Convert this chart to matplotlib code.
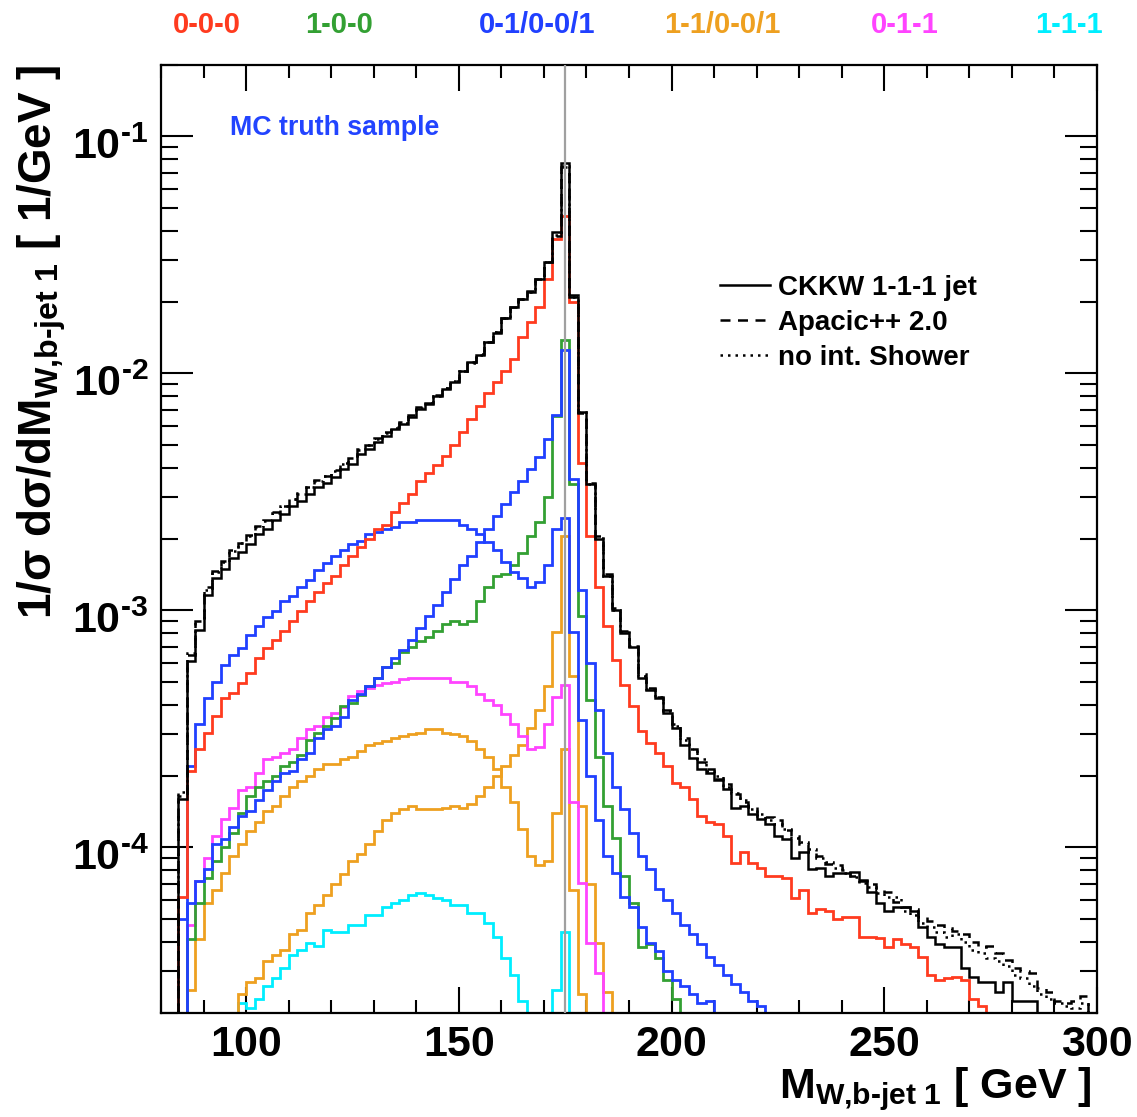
import numpy as np
import matplotlib
matplotlib.use('Agg')
import matplotlib.pyplot as plt
import matplotlib.transforms as mtransforms
from matplotlib import font_manager
from matplotlib.lines import Line2D
from matplotlib.ticker import MultipleLocator, LogLocator, NullFormatter

# bin width is 2 GeV everywhere; each list starts at its *_start edge
BIN = 2.0

ckkw_start = 82
ckkw = [
    1e-6, 1.6e-4, 6.1e-4, 8.3e-4, 1.16e-3, 1.37e-3, 1.5e-3, 1.66e-3, 1.77e-3, 1.9e-3,
    2.1e-3, 2.2e-3, 2.4e-3, 2.55e-3, 2.75e-3, 2.9e-3, 3.1e-3, 3.3e-3, 3.45e-3, 3.65e-3,
    3.95e-3, 4.15e-3, 4.55e-3, 4.8e-3, 5.15e-3, 5.45e-3, 5.8e-3, 6.1e-3, 6.55e-3, 7.1e-3,
    7.4e-3, 8.0e-3, 8.6e-3, 9.2e-3, 1.02e-2, 1.12e-2, 1.2e-2, 1.35e-2, 1.48e-2, 1.72e-2,
    1.9e-2, 2.05e-2, 2.2e-2, 2.5e-2, 2.95e-2, 3.95e-2, 7.7e-2, 2.1e-2, 6.9e-3, 3.4e-3,
    2.0e-3, 1.4e-3, 1.0e-3, 8.0e-4, 7.0e-4, 5.2e-4, 4.6e-4, 4.25e-4, 3.7e-4, 3.2e-4,
    2.7e-4, 2.38e-4, 2.15e-4, 2.05e-4, 1.93e-4, 1.77e-4, 1.47e-4, 1.5e-4, 1.38e-4, 1.32e-4,
    1.25e-4, 1.12e-4, 1.08e-4, 9.0e-5, 9.6e-5, 8.1e-5, 8.2e-5, 7.6e-5, 7.8e-5, 7.8e-5,
    7.9e-5, 7.2e-5, 6.5e-5, 5.8e-5, 5.4e-5, 5.6e-5, 5.6e-5, 5.4e-5, 4.6e-5, 4.2e-5,
    3.9e-5, 3.8e-5, 3.8e-5, 3.1e-5, 2.85e-5, 2.7e-5, 2.7e-5, 2.45e-5, 2.7e-5, 2.25e-5,
    2.25e-5, 2.25e-5, 1e-6,
]

apacic_start = 82
apacic = [
    1e-6, 1.65e-4, 6.5e-4, 9.0e-4, 1.25e-3, 1.47e-3, 1.62e-3, 1.8e-3, 1.93e-3, 2.07e-3,
    2.27e-3, 2.4e-3, 2.6e-3, 2.76e-3, 2.96e-3, 3.13e-3, 3.33e-3, 3.54e-3, 3.7e-3, 3.9e-3,
    4.2e-3, 4.4e-3, 4.8e-3, 5.0e-3, 5.35e-3, 5.65e-3, 5.95e-3, 6.25e-3, 6.7e-3, 7.2e-3,
    7.5e-3, 8.1e-3, 8.7e-3, 9.3e-3, 1.02e-2, 1.12e-2, 1.21e-2, 1.35e-2, 1.5e-2, 1.72e-2,
    1.9e-2, 2.05e-2, 2.22e-2, 2.5e-2, 2.95e-2, 3.8e-2, 7.4e-2, 2.15e-2, 6.8e-3, 3.45e-3,
    2.05e-3, 1.42e-3, 1.02e-3, 8.2e-4, 7.1e-4, 5.4e-4, 4.7e-4, 4.3e-4, 3.8e-4, 3.3e-4,
    2.9e-4, 2.6e-4, 2.3e-4, 2.15e-4, 1.95e-4, 1.85e-4, 1.68e-4, 1.55e-4, 1.48e-4, 1.36e-4,
    1.34e-4, 1.3e-4, 1.18e-4, 1.12e-4, 1.03e-4, 9.6e-5, 9.2e-5, 8.5e-5, 8.4e-5, 8.0e-5,
    7.6e-5, 7.3e-5, 7.0e-5, 6.6e-5, 6.5e-5, 5.9e-5, 5.6e-5, 5.5e-5, 5.1e-5, 4.9e-5,
    4.7e-5, 4.55e-5, 4.45e-5, 4.3e-5, 4.0e-5, 3.8e-5, 3.85e-5, 3.6e-5, 3.35e-5, 3.1e-5,
    3.0e-5, 2.95e-5, 2.55e-5, 2.45e-5, 2.25e-5, 2.2e-5, 2.25e-5, 2.35e-5, 1e-6,
]

noshower_start = 82
noshower = [
    1e-6, 1.72e-4, 6.6e-4, 9.0e-4, 1.22e-3, 1.45e-3, 1.6e-3, 1.78e-3, 1.92e-3, 2.05e-3,
    2.25e-3, 2.38e-3, 2.58e-3, 2.75e-3, 2.95e-3, 3.1e-3, 3.3e-3, 3.5e-3, 3.68e-3, 3.88e-3,
    4.15e-3, 4.4e-3, 4.75e-3, 5.0e-3, 5.3e-3, 5.6e-3, 5.9e-3, 6.2e-3, 6.65e-3, 7.15e-3,
    7.5e-3, 8.05e-3, 8.65e-3, 9.3e-3, 1.02e-2, 1.11e-2, 1.2e-2, 1.35e-2, 1.49e-2, 1.72e-2,
    1.9e-2, 2.05e-2, 2.2e-2, 2.5e-2, 2.95e-2, 3.85e-2, 7.5e-2, 2.1e-2, 6.85e-3, 3.4e-3,
    2.02e-3, 1.4e-3, 1.0e-3, 8.1e-4, 7.05e-4, 5.3e-4, 4.65e-4, 4.3e-4, 3.75e-4, 3.25e-4,
    2.85e-4, 2.6e-4, 2.35e-4, 2.1e-4, 2.0e-4, 1.8e-4, 1.7e-4, 1.58e-4, 1.45e-4, 1.38e-4,
    1.3e-4, 1.25e-4, 1.2e-4, 1.1e-4, 1.05e-4, 9.8e-5, 9.0e-5, 8.7e-5, 8.2e-5, 7.8e-5,
    7.5e-5, 7.1e-5, 6.8e-5, 6.4e-5, 6.2e-5, 6.2e-5, 5.4e-5, 5.2e-5, 4.8e-5, 4.6e-5,
    4.4e-5, 4.2e-5, 4.3e-5, 4.0e-5, 3.7e-5, 3.6e-5, 3.4e-5, 3.3e-5, 3.15e-5, 2.9e-5,
    2.8e-5, 2.6e-5, 2.4e-5, 2.3e-5, 2.2e-5, 2.15e-5, 2.1e-5, 2.2e-5, 1e-6,
]

# 0-0-0
red_start = 82
red = [
    1e-6, 6.2e-5, 2.1e-4, 2.6e-4, 3.05e-4, 3.6e-4, 4.25e-4, 4.5e-4, 4.95e-4, 5.45e-4,
    6.3e-4, 6.95e-4, 7.5e-4, 8.2e-4, 9.0e-4, 9.9e-4, 1.09e-3, 1.2e-3, 1.3e-3, 1.4e-3,
    1.55e-3, 1.7e-3, 1.85e-3, 2.0e-3, 2.2e-3, 2.3e-3, 2.6e-3, 2.85e-3, 3.1e-3, 3.5e-3,
    3.8e-3, 4.1e-3, 4.5e-3, 5.0e-3, 5.65e-3, 6.4e-3, 7.3e-3, 8.3e-3, 9.2e-3, 1.02e-2,
    1.15e-2, 1.43e-2, 1.64e-2, 1.9e-2, 2.5e-2, 3.7e-2, 4.6e-2, 2.0e-2, 4.2e-3, 2.05e-3,
    1.25e-3, 8.6e-4, 6.2e-4, 4.85e-4, 3.95e-4, 3.1e-4, 2.75e-4, 2.5e-4, 2.2e-4, 1.87e-4,
    1.8e-4, 1.6e-4, 1.36e-4, 1.28e-4, 1.25e-4, 1.12e-4, 8.6e-5, 9.6e-5, 8.6e-5, 8.2e-5,
    7.6e-5, 7.6e-5, 7.4e-5, 6.1e-5, 6.6e-5, 5.3e-5, 5.5e-5, 5.4e-5, 5.0e-5, 5.1e-5,
    5.1e-5, 4.2e-5, 4.2e-5, 4.15e-5, 3.8e-5, 4.1e-5, 3.9e-5, 3.8e-5, 3.45e-5, 2.9e-5,
    2.75e-5, 2.8e-5, 2.85e-5, 2.75e-5, 2.3e-5, 2.15e-5, 1e-6,
]

# 1-0-0
green_start = 84
green = [
    1e-6, 4.1e-5, 5.8e-5, 7.4e-5, 8.8e-5, 1.0e-4, 1.15e-4, 1.4e-4, 1.65e-4, 1.8e-4,
    1.9e-4, 2.0e-4, 2.2e-4, 2.3e-4, 2.45e-4, 2.85e-4, 3.05e-4, 3.25e-4, 3.5e-4, 3.95e-4,
    4.05e-4, 4.4e-4, 4.8e-4, 5.2e-4, 5.75e-4, 6.0e-4, 6.7e-4, 7.0e-4, 7.4e-4, 7.7e-4,
    8.2e-4, 8.8e-4, 9.0e-4, 8.8e-4, 9.0e-4, 1.09e-3, 1.25e-3, 1.4e-3, 1.43e-3, 1.55e-3,
    1.75e-3, 2.05e-3, 2.35e-3, 3.0e-3, 6.6e-3, 1.38e-2, 3.4e-3, 9.5e-4, 4.2e-4, 2.4e-4,
    1.5e-4, 1.1e-4, 7.6e-5, 5.8e-5, 3.8e-5, 3.9e-5, 3.4e-5, 2.75e-5, 2.3e-5, 1e-6,
]

# 0-1/0-0/1: broad and narrow components
blue_wide_start = 84
blue_wide = [
    1e-6, 2.2e-4, 3.3e-4, 4.25e-4, 5.0e-4, 5.9e-4, 6.5e-4, 6.95e-4, 7.9e-4, 8.6e-4,
    9.4e-4, 9.9e-4, 1.09e-3, 1.15e-3, 1.26e-3, 1.34e-3, 1.48e-3, 1.58e-3, 1.7e-3, 1.8e-3,
    1.9e-3, 1.96e-3, 2.1e-3, 2.15e-3, 2.2e-3, 2.25e-3, 2.35e-3, 2.35e-3, 2.4e-3, 2.4e-3,
    2.4e-3, 2.4e-3, 2.4e-3, 2.3e-3, 2.2e-3, 2.1e-3, 1.95e-3, 1.8e-3, 1.6e-3, 1.45e-3,
    1.37e-3, 1.26e-3, 1.32e-3, 1.55e-3, 2.2e-3, 2.45e-3, 8.1e-4, 3.45e-4, 2.0e-4, 1.3e-4,
    9.2e-5, 7.8e-5, 6.2e-5, 5.6e-5, 4.6e-5, 3.95e-5, 3.65e-5, 3.0e-5, 2.75e-5, 2.6e-5,
    2.4e-5, 2.2e-5, 2.25e-5, 1e-6,
]

blue_narrow_start = 82
blue_narrow = [
    1e-6, 5.0e-5, 5.8e-5, 7.2e-5, 8.1e-5, 1.03e-4, 1.08e-4, 1.22e-4, 1.36e-4, 1.42e-4,
    1.58e-4, 1.75e-4, 1.9e-4, 2.05e-4, 2.1e-4, 2.35e-4, 2.5e-4, 2.9e-4, 3.15e-4, 3.25e-4,
    3.55e-4, 4.2e-4, 4.45e-4, 4.8e-4, 5.2e-4, 5.75e-4, 6.3e-4, 6.8e-4, 7.5e-4, 8.4e-4,
    9.5e-4, 1.05e-3, 1.2e-3, 1.35e-3, 1.55e-3, 1.7e-3, 1.95e-3, 2.2e-3, 2.5e-3, 2.8e-3,
    3.15e-3, 3.5e-3, 3.95e-3, 4.45e-3, 5.3e-3, 6.7e-3, 1.26e-2, 3.6e-3, 1.22e-3, 6.0e-4,
    3.8e-4, 2.5e-4, 1.8e-4, 1.45e-4, 1.15e-4, 9.2e-5, 8.1e-5, 6.7e-5, 6.0e-5, 5.3e-5,
    4.7e-5, 4.3e-5, 3.9e-5, 3.45e-5, 3.2e-5, 2.9e-5, 2.65e-5, 2.45e-5, 2.25e-5, 2.15e-5,
    1e-6,
]

# 1-1/0-0/1: broad and narrow components
orange_wide_start = 84
orange_wide = [
    1e-6, 2.5e-5, 4.1e-5, 5.8e-5, 6.6e-5, 7.8e-5, 9.2e-5, 1.03e-4, 1.17e-4, 1.28e-4,
    1.42e-4, 1.5e-4, 1.65e-4, 1.8e-4, 1.9e-4, 2.0e-4, 2.15e-4, 2.25e-4, 2.25e-4, 2.35e-4,
    2.4e-4, 2.55e-4, 2.7e-4, 2.75e-4, 2.8e-4, 2.9e-4, 2.95e-4, 3.0e-4, 3.05e-4, 3.15e-4,
    3.15e-4, 3.05e-4, 3.0e-4, 2.95e-4, 2.8e-4, 2.6e-4, 2.4e-4, 2.15e-4, 1.8e-4, 1.55e-4,
    1.2e-4, 9.2e-5, 8.4e-5, 8.8e-5, 1.4e-4, 2.6e-4, 6.6e-5, 2.4e-5, 1e-6,
]

orange_narrow_start = 96
orange_narrow = [
    1e-6, 2.4e-5, 2.7e-5, 2.8e-5, 3.3e-5, 3.5e-5, 3.7e-5, 4.3e-5, 4.5e-5, 5.3e-5,
    5.7e-5, 6.3e-5, 7.0e-5, 7.7e-5, 8.8e-5, 9.4e-5, 1.03e-4, 1.17e-4, 1.3e-4, 1.4e-4,
    1.45e-4, 1.5e-4, 1.45e-4, 1.45e-4, 1.45e-4, 1.46e-4, 1.5e-4, 1.46e-4, 1.52e-4, 1.65e-4,
    1.8e-4, 2.0e-4, 2.2e-4, 2.45e-4, 2.7e-4, 3.2e-4, 3.8e-4, 4.8e-4, 8.1e-4, 2.05e-3,
    5.3e-4, 1.5e-4, 7.0e-5, 3.95e-5, 2.45e-5, 1e-6,
]

# 0-1-1
magenta_start = 84
magenta = [
    1e-6, 4.7e-5, 7.2e-5, 9.0e-5, 1.12e-4, 1.32e-4, 1.47e-4, 1.75e-4, 1.8e-4, 2.05e-4,
    2.35e-4, 2.4e-4, 2.5e-4, 2.6e-4, 2.9e-4, 3.15e-4, 3.25e-4, 3.55e-4, 3.7e-4, 3.9e-4,
    4.35e-4, 4.55e-4, 4.7e-4, 4.85e-4, 4.95e-4, 5.0e-4, 5.15e-4, 5.2e-4, 5.2e-4, 5.2e-4,
    5.2e-4, 5.2e-4, 5.0e-4, 5.0e-4, 4.8e-4, 4.45e-4, 4.2e-4, 4.0e-4, 3.65e-4, 3.3e-4,
    2.95e-4, 2.6e-4, 2.65e-4, 3.3e-4, 4.3e-4, 4.85e-4, 1.55e-4, 7.1e-5, 3.95e-5, 2.95e-5,
    1e-6,
]

# 1-1-1
cyan_start = 96
cyan = [
    1e-6, 2.2e-5, 2.1e-5, 2.3e-5, 2.6e-5, 2.8e-5, 3.1e-5, 3.5e-5, 3.7e-5, 3.95e-5,
    3.85e-5, 4.5e-5, 4.4e-5, 4.4e-5, 4.7e-5, 4.7e-5, 5.2e-5, 5.2e-5, 5.6e-5, 5.8e-5,
    6.0e-5, 6.3e-5, 6.4e-5, 6.3e-5, 6.1e-5, 6.0e-5, 5.7e-5, 5.7e-5, 5.3e-5, 5.3e-5,
    4.8e-5, 4.2e-5, 3.4e-5, 2.9e-5, 2.25e-5, 1e-6, 1e-6, 1e-6, 2.5e-5, 4.4e-5,
    1e-6,
]

top_mass = 175.0
channel_names = ['0-0-0', '1-0-0', '0-1/0-0/1', '1-1/0-0/1', '0-1-1', '1-1-1']
legend_names = ['CKKW 1-1-1 jet', 'Apacic++ 2.0', 'no int. Shower']
ytick_vals = [1e-4, 1e-3, 1e-2, 1e-1]
ytick_text = [r'$10^{\text{-}4}$', r'$10^{\text{-}3}$', r'$10^{\text{-}2}$', r'$10^{\text{-}1}$']

C_RED = '#ff3b1f'
C_GREEN = '#33a033'
C_BLUE = '#2040ff'
C_ORANGE = '#eea020'
C_MAGENTA = '#ff44ff'
C_CYAN = '#00eeff'
channel_colors = [C_RED, C_GREEN, C_BLUE, C_ORANGE, C_MAGENTA, C_CYAN]

installed = {f.name for f in font_manager.fontManager.ttflist}
narrow = 'Liberation Sans Narrow' if 'Liberation Sans Narrow' in installed else 'Liberation Sans'

plt.rcParams['font.family'] = [narrow, 'DejaVu Sans']
plt.rcParams['font.weight'] = 'bold'
plt.rcParams['mathtext.fontset'] = 'custom'
plt.rcParams['mathtext.default'] = 'regular'
plt.rcParams['mathtext.rm'] = narrow + ':bold'
plt.rcParams['mathtext.it'] = narrow + ':bold'
plt.rcParams['mathtext.bf'] = narrow + ':bold'

W, H = 1137, 1117
fig = plt.figure(figsize=(W / 100, H / 100), dpi=100)
ax = fig.add_axes([161 / W, 1 - 1013 / H, 936 / W, 948 / H])


def edges_for(start, vals):
    return start + BIN * np.arange(len(vals) + 1)


def hist(start, vals, color, lw=2.0, ls='-', z=2):
    ax.stairs(vals, edges_for(start, vals), baseline=None, color=color,
              lw=lw, ls=ls, zorder=z)


# subprocess contributions
hist(cyan_start, cyan, C_CYAN)
hist(orange_narrow_start, orange_narrow, C_ORANGE)
hist(orange_wide_start, orange_wide, C_ORANGE)
hist(magenta_start, magenta, C_MAGENTA)
hist(green_start, green, C_GREEN)
hist(blue_narrow_start, blue_narrow, C_BLUE)
hist(blue_wide_start, blue_wide, C_BLUE)
hist(red_start, red, C_RED)

# totals
hist(noshower_start, noshower, 'black', lw=1.8, ls=(0, (1, 2)), z=3)
hist(apacic_start, apacic, 'black', lw=1.8, ls=(0, (4, 3)), z=3)
hist(ckkw_start, ckkw, 'black', lw=1.8, z=4)

ax.axvline(top_mass, color='#a0a0a0', lw=1.6, zorder=5)

ax.set_xlim(80, 300)
ax.set_yscale('log')
ax.set_ylim(2e-5, 0.2)

ax.xaxis.set_major_locator(MultipleLocator(50))
ax.xaxis.set_minor_locator(MultipleLocator(10))
ax.set_yticks(ytick_vals, labels=ytick_text)
ax.yaxis.set_minor_locator(LogLocator(base=10, subs=np.arange(2, 10)))
ax.yaxis.set_minor_formatter(NullFormatter())

ax.tick_params(which='both', direction='in', top=True, right=True, width=1.5)
ax.tick_params(axis='x', which='major', length=19, pad=9, labelsize=31)
ax.tick_params(axis='x', which='minor', length=9.5)
ax.tick_params(axis='y', which='major', length=23, pad=9, labelsize=31)
ax.tick_params(axis='y', which='minor', length=12)
for s in ax.spines.values():
    s.set_linewidth(1.6)

# exponent labels sit a little below their tick
shift = mtransforms.ScaledTranslation(0, -7 / 100, fig.dpi_scale_trans)
for lbl in ax.get_yticklabels():
    lbl.set_transform(lbl.get_transform() + shift)

# axis titles
fig.text(42 / W, 1 - 65 / H, '1/σ dσ/dM$_{\\text{W,b-jet 1}}$ [ 1/GeV ]',
         rotation=90, ha='center', va='top', fontsize=33)
fig.text(1092 / W, 1 - 1098 / H, 'M$_{\\text{W,b-jet 1}}$ [ GeV ]',
         ha='right', va='baseline', fontsize=31)

# channel labels along the top
for name, col, xc in zip(channel_names, channel_colors, [207, 339, 537, 722, 905, 1069]):
    fig.text(xc / W, 1 - 25 / H, name, color=col, ha='center', va='center', fontsize=21)

fig.text(230 / W, 1 - 128 / H, 'MC truth sample', color='#2244ff',
         family='Liberation Sans', fontsize=19.3, va='center')

handles = [Line2D([], [], color='black', lw=1.8, ls='-'),
           Line2D([], [], color='black', lw=1.8, ls=(0, (4, 3))),
           Line2D([], [], color='black', lw=1.8, ls=(0, (1, 2)))]
ax.legend(handles, legend_names, loc='upper left',
          bbox_to_anchor=(720 / W, 1 - 275 / H), bbox_transform=fig.transFigure,
          frameon=False, prop=dict(family='Liberation Sans', weight='bold', size=20),
          handlelength=1.8, handletextpad=0.3, labelspacing=0.32,
          borderpad=0, borderaxespad=0)

fig.savefig('out.png', dpi=100)
